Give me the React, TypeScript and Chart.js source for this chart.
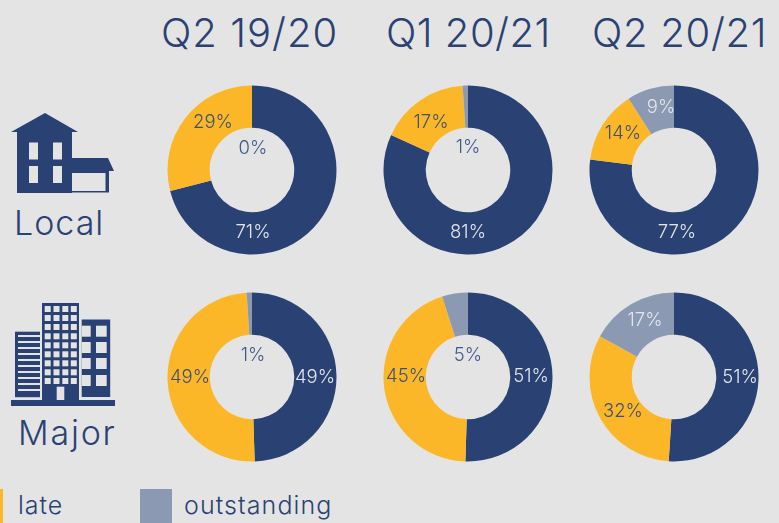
import React, { useEffect, useRef } from "react";
import { Chart, registerables } from "chart.js";

Chart.register(...registerables);

const quarters = ["Q2 19/20", "Q1 20/21", "Q2 20/21"];
const rowNames = ["Local", "Major"];
const legendNames = ["late", "outstanding"];
const sliceNames = ["on time", "late", "outstanding"];
const local1 = [71, 29, 0];
const local2 = [81, 17, 1];
const local3 = [77, 14, 9];
const major1 = [49, 49, 1];
const major2 = [51, 45, 5];
const major3 = [51, 32, 17];

const NAVY = "#2a4273";
const YELLOW = "#fbb727";
const GREY = "#8b9ab2";
const BG = "#e4e4e4";
const FONT = "Inter, 'Open Sans', sans-serif";
const SIZE = 170;

type Panel = { values: number[]; left: number; top: number; offsets: number[][]; colors: string[] };
const LIGHT = "#e3e6ec";
const DARK = "#3f5175";
const HOLE = "#41598a";
const panels: Panel[] = [
  { values: local1, left: 167, top: 85, offsets: [[1, 62], [-39, -48], [1, -22]], colors: [LIGHT, DARK, HOLE] },
  { values: local2, left: 383, top: 85, offsets: [[0, 62], [-37, -48], [0, -23]], colors: [LIGHT, DARK, HOLE] },
  { values: local3, left: 589, top: 85, offsets: [[3, 62], [-51, -37], [-13, -63]], colors: [LIGHT, DARK, LIGHT] },
  { values: major1, left: 167, top: 292, offsets: [[63, 0], [-62, 0], [1, -22]], colors: [LIGHT, DARK, HOLE] },
  { values: major2, left: 383, top: 292, offsets: [[63, -1], [-62, -1], [0, -22]], colors: [LIGHT, DARK, HOLE] },
  { values: major3, left: 589, top: 292, offsets: [[66, 0], [-51, 34], [-29, -57]], colors: [LIGHT, DARK, LIGHT] },
];

function Donut({ panel }: { panel: Panel }) {
  const ref = useRef<HTMLCanvasElement>(null);
  useEffect(() => {
    const labelPlugin = {
      id: "sliceLabels",
      afterDraw(chart: any) {
        const { ctx, chartArea } = chart;
        const cx = (chartArea.left + chartArea.right) / 2;
        const cy = (chartArea.top + chartArea.bottom) / 2;
        ctx.save();
        ctx.font = `300 18.5px ${FONT}`;
        ctx.textAlign = "center";
        ctx.textBaseline = "middle";
        panel.values.forEach((v, i) => {
          ctx.fillStyle = panel.colors[i];
          ctx.fillText(`${v}%`, cx + panel.offsets[i][0], cy + panel.offsets[i][1]);
        });
        ctx.restore();
      },
    };
    const chart = new Chart(ref.current!, {
      type: "doughnut",
      data: {
        labels: sliceNames,
        datasets: [{ data: panel.values, backgroundColor: [NAVY, YELLOW, GREY], borderWidth: 0 }],
      },
      options: {
        animation: false,
        responsive: false,
        cutout: "50%",
        radius: 84.5,
        layout: { padding: 0 },
        plugins: { legend: { display: false }, tooltip: { enabled: false } },
      } as any,
      plugins: [labelPlugin],
    });
    return () => chart.destroy();
  }, []);
  return (
    <canvas
      ref={ref}
      width={SIZE}
      height={SIZE}
      style={{ position: "absolute", left: panel.left, top: panel.top, width: SIZE, height: SIZE }}
    />
  );
}

function House() {
  return (
    <svg style={{ position: "absolute", left: 0, top: 100 }} width={125} height={100} viewBox="0 100 125 100">
      <path d="M45 113 L78 132 L72 132 L72 193 L17 193 L17 132 L11 132 Z" fill={NAVY} />
      {[29, 53].map((x) =>
        [142.5, 166].map((y) => <rect key={`${x}${y}`} x={x} y={y} width={9} height={17} fill={BG} />)
      )}
      <path d="M72 158 L108 158 L114 171 L109 171 L109 192.5 L72 192.5 L72 191 L105.5 191 L105.5 173 L72 173 Z" fill={NAVY} />
    </svg>
  );
}

function Tower() {
  const cols = [44.7, 53.5, 62.3, 70.8];
  const rows = [306, 315, 324, 333.3, 342.3, 351.3, 360.3, 369.3, 378];
  const stripes = [335, 341, 347, 353, 359, 365, 371, 377, 383, 389];
  const side = [325.7, 342, 358, 375];
  return (
    <svg style={{ position: "absolute", left: 0, top: 295 }} width={125} height={115} viewBox="0 295 125 115">
      <rect x={11} y={400} width={104} height={6} fill={NAVY} />
      <rect x={42} y={303} width={37} height={97} fill={NAVY} />
      {cols.map((x) => rows.map((y) => <rect key={`${x}-${y}`} x={x} y={y} width={6} height={6} fill={BG} />))}
      <rect x={56.7} y={386.7} width={7.6} height={13.3} fill={BG} />
      <rect x={15} y={331.7} width={25} height={65.5} fill={NAVY} />
      {stripes.map((y) => <rect key={y} x={18} y={y} width={22} height={2} fill={BG} />)}
      <rect x={81.7} y={319.5} width={28.5} height={77.5} fill={NAVY} />
      {side.map((y) => (
        <React.Fragment key={y}>
          <rect x={81.7} y={y} width={9} height={11} fill={BG} />
          <rect x={96} y={y} width={10.7} height={11} fill={BG} />
        </React.Fragment>
      ))}
    </svg>
  );
}

const text = (left: number, top: number, size: number, spacing: number, content: string) => (
  <div
    key={content}
    style={{
      position: "absolute", left, top, fontSize: size, lineHeight: `${size}px`, color: NAVY,
      fontFamily: FONT, fontWeight: 300, whiteSpace: "nowrap", letterSpacing: spacing,
    }}
  >
    {content}
  </div>
);

export default function App() {
  return (
    <div style={{ position: "absolute", left: 0, top: 0, width: 779, height: 523, overflow: "hidden", background: BG, filter: "blur(0.4px)" }}>
      {text(161, 13, 40, 1, quarters[0])}
      {text(386, 13, 40, 0.5, quarters[1])}
      {text(592, 13, 40, 0.7, quarters[2])}
      <House />
      <Tower />
      {text(14, 206, 34, 1, rowNames[0])}
      {text(18, 416, 34, 1.8, rowNames[1])}
      {panels.map((p, i) => <Donut key={i} panel={p} />)}
      <div style={{ position: "absolute", left: 0, top: 489, width: 3, height: 34, background: YELLOW }} />
      <div style={{ position: "absolute", left: 140, top: 489, width: 32, height: 34, background: GREY }} />
      {text(18, 493, 25, 1, legendNames[0])}
      {text(184, 493, 25, 1.1, legendNames[1])}
    </div>
  );
}
